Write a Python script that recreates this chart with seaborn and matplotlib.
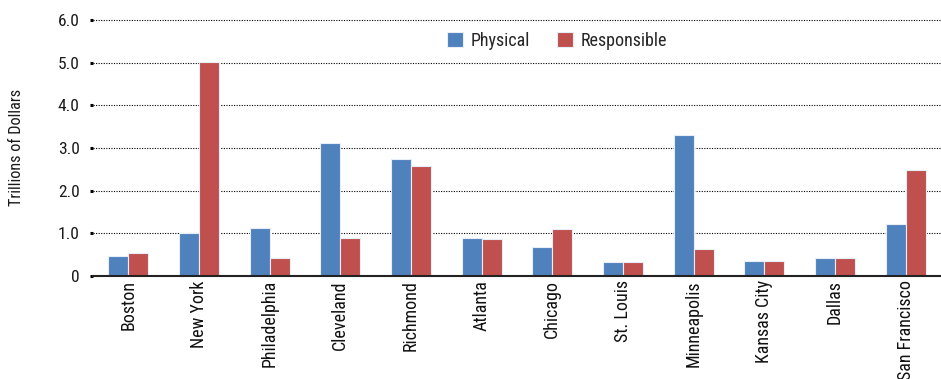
import pandas as pd
import seaborn as sns
import matplotlib.pyplot as plt

districts = ['Boston', 'New York', 'Philadelphia', 'Cleveland', 'Richmond', 'Atlanta',
             'Chicago', 'St. Louis', 'Minneapolis', 'Kansas City', 'Dallas', 'San Francisco']
physical = [0.46, 1.00, 1.12, 3.11, 2.75, 0.90, 0.67, 0.335, 3.31, 0.36, 0.41, 1.22]
responsible = [0.55, 5.02, 0.41, 0.88, 2.58, 0.87, 1.10, 0.335, 0.63, 0.36, 0.41, 2.49]
series = ['Physical', 'Responsible']
colors = ['#4F81BD', '#C0504D']

df = pd.DataFrame({'district': districts * 2,
                   'value': physical + responsible,
                   'series': [series[0]] * len(districts) + [series[1]] * len(districts)})

sns.set_style('white')
# condensed face if one is installed, else plain sans
narrow = ['Liberation Sans Narrow', 'DejaVu Sans Condensed', 'Roboto Condensed',
          'Open Sans Condensed', 'Liberation Sans', 'DejaVu Sans']
plt.rcParams['font.family'] = narrow

fig = plt.figure(figsize=(9.41, 3.79), dpi=100)
ax = fig.add_axes([0.0988, 0.2718, 0.9012, 0.678])

sns.barplot(data=df, x='district', y='value', hue='series', palette=colors, saturation=1,
            width=0.57, gap=0, edgecolor='#e8eef8', linewidth=0.8, ax=ax)

ax.set_ylim(0, 6.02)
ax.set_xlim(-0.5, len(districts) - 0.5)
ax.set_yticks([0, 1, 2, 3, 4, 5, 6])
ax.set_yticklabels(['0', '1.0', '2.0', '3.0', '4.0', '5.0', '6.0'], fontsize=12.5)
ax.yaxis.grid(True, color='black', linestyle=(0, (1, 1.3)), linewidth=0.8)
ax.set_axisbelow(True)
ax.tick_params(axis='y', length=2.5, width=2.2, color='black', pad=7, left=True,
               labelcolor='#1a1a1a')
ax.tick_params(axis='x', length=0, pad=3, labelcolor='#111111')
plt.setp(ax.get_xticklabels(), rotation=90, fontsize=13)

for s in ['top', 'right', 'left']:
    ax.spines[s].set_visible(False)
ax.spines['bottom'].set_color('#222222')
ax.spines['bottom'].set_linewidth(1.5)

ax.set_xlabel('')
ax.set_ylabel('')
fig.text(17 / 941, 0.612, 'Trillions of Dollars', rotation=90, ha='center', va='center',
         fontsize=11.7, color='#1a1a1a')

ax.legend(loc='center', bbox_to_anchor=(0.547, 0.915), ncol=2, frameon=False,
          prop={'size': 13}, handlelength=0.9, handleheight=0.9,
          columnspacing=1.5, handletextpad=0.4)

fig.savefig('out.png', dpi=100)
